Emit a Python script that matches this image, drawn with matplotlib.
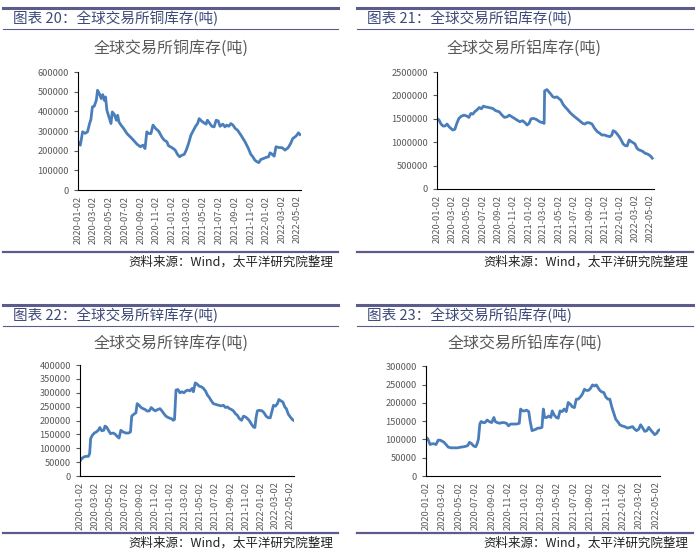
import matplotlib
matplotlib.use("Agg")
import matplotlib.pyplot as plt
import matplotlib.dates as mdates
from matplotlib.lines import Line2D
from matplotlib.ticker import FuncFormatter
import pandas as pd

plt.rcParams["font.family"] = ["Noto Sans CJK SC", "DejaVu Sans"]

copper_dates = [
    "2020-01-02", "2020-01-11", "2020-01-20", "2020-01-30", "2020-02-08", "2020-02-16",
    "2020-02-21", "2020-02-27", "2020-03-05", "2020-03-13", "2020-03-18", "2020-03-26",
    "2020-04-01", "2020-04-07", "2020-04-13", "2020-04-18", "2020-04-23", "2020-05-01",
    "2020-05-09", "2020-05-14", "2020-05-22", "2020-05-30", "2020-06-04", "2020-06-09",
    "2020-06-17", "2020-06-27", "2020-07-10", "2020-07-29", "2020-08-18", "2020-08-31",
    "2020-09-10", "2020-09-18", "2020-09-25", "2020-10-03", "2020-10-11", "2020-10-19",
    "2020-10-29", "2020-11-10", "2020-11-22", "2020-12-01", "2020-12-12", "2020-12-18",
    "2020-12-31", "2021-01-13", "2021-01-22", "2021-01-30", "2021-02-08", "2021-02-17",
    "2021-02-25", "2021-03-06", "2021-03-15", "2021-03-25", "2021-04-02", "2021-04-10",
    "2021-04-16", "2021-04-25", "2021-05-05", "2021-05-13", "2021-05-18", "2021-05-26",
    "2021-06-04", "2021-06-13", "2021-06-21", "2021-06-29", "2021-07-06", "2021-07-17",
    "2021-07-25", "2021-08-01", "2021-08-09", "2021-08-17", "2021-08-25", "2021-09-03",
    "2021-09-12", "2021-09-25", "2021-10-11", "2021-10-24", "2021-11-02", "2021-11-10",
    "2021-11-18", "2021-11-26", "2021-12-03", "2021-12-11", "2021-12-21", "2022-01-01",
    "2022-01-10", "2022-01-16", "2022-01-24", "2022-02-01", "2022-02-08", "2022-02-19",
    "2022-03-04", "2022-03-15", "2022-03-27", "2022-04-06", "2022-04-14", "2022-04-23",
    "2022-04-30", "2022-05-06", "2022-05-12",
]
copper = [
    245000, 228000, 296000, 288000, 296000, 338000, 358000, 423000, 426000, 456000,
    507000, 487000, 465000, 485000, 456000, 473000, 406000, 372000, 338000, 397000,
    384000, 355000, 380000, 346000, 330000, 313000, 287000, 262000, 233000, 220000,
    228000, 211000, 296000, 287000, 287000, 330000, 313000, 299000, 270000, 254000,
    245000, 225000, 216000, 203000, 181000, 169000, 177000, 181000, 203000, 237000,
    279000, 304000, 324000, 338000, 363000, 351000, 341000, 335000, 355000, 341000,
    324000, 321000, 355000, 351000, 324000, 335000, 321000, 330000, 324000, 338000,
    330000, 313000, 304000, 279000, 245000, 211000, 182000, 169000, 152000, 144000,
    139000, 155000, 160000, 166000, 169000, 189000, 182000, 172000, 220000, 216000,
    215000, 203000, 215000, 237000, 262000, 270000, 279000, 291000, 282000,
]

alu_dates = [
    "2020-01-02", "2020-01-10", "2020-01-18", "2020-01-26", "2020-02-03", "2020-02-11",
    "2020-02-19", "2020-02-26", "2020-03-05", "2020-03-13", "2020-03-21", "2020-03-29",
    "2020-04-09", "2020-04-19", "2020-04-30", "2020-05-08", "2020-05-16", "2020-05-24",
    "2020-05-31", "2020-06-08", "2020-06-19", "2020-06-27", "2020-07-05", "2020-07-13",
    "2020-07-26", "2020-08-11", "2020-08-24", "2020-09-06", "2020-09-17", "2020-09-27",
    "2020-10-08", "2020-10-16", "2020-10-26", "2020-11-06", "2020-11-16", "2020-11-27",
    "2020-12-08", "2020-12-18", "2020-12-26", "2021-01-03", "2021-01-11", "2021-01-21",
    "2021-02-01", "2021-02-14", "2021-02-27", "2021-03-04", "2021-03-06", "2021-03-15",
    "2021-03-23", "2021-03-31", "2021-04-08", "2021-04-16", "2021-04-24", "2021-05-02",
    "2021-05-10", "2021-05-18", "2021-05-26", "2021-06-05", "2021-06-16", "2021-06-26",
    "2021-07-07", "2021-07-17", "2021-07-28", "2021-08-05", "2021-08-13", "2021-08-21",
    "2021-08-31", "2021-09-11", "2021-09-21", "2021-10-02", "2021-10-12", "2021-10-20",
    "2021-10-31", "2021-11-10", "2021-11-21", "2021-11-29", "2021-12-04", "2021-12-12",
    "2021-12-20", "2021-12-28", "2022-01-05", "2022-01-13", "2022-01-21", "2022-01-29",
    "2022-02-06", "2022-02-14", "2022-02-21", "2022-03-01", "2022-03-09", "2022-03-17",
    "2022-03-25", "2022-04-02", "2022-04-10", "2022-04-18", "2022-04-26", "2022-05-04",
    "2022-05-09",
]
alu = [
    1508000, 1473000, 1388000, 1346000, 1346000, 1388000, 1331000, 1296000, 1261000, 1275000,
    1402000, 1508000, 1558000, 1579000, 1558000, 1530000, 1615000, 1600000, 1650000, 1685000,
    1742000, 1714000, 1771000, 1756000, 1742000, 1721000, 1671000, 1650000, 1579000, 1530000,
    1544000, 1579000, 1544000, 1508000, 1473000, 1438000, 1459000, 1416000, 1367000, 1402000,
    1501000, 1508000, 1487000, 1438000, 1416000, 1402000, 2096000, 2125000, 2075000, 2025000,
    1969000, 1955000, 1969000, 1933000, 1898000, 1813000, 1756000, 1700000, 1629000, 1579000,
    1530000, 1487000, 1438000, 1402000, 1388000, 1416000, 1416000, 1388000, 1296000, 1225000,
    1190000, 1154000, 1154000, 1133000, 1119000, 1154000, 1246000, 1225000, 1176000, 1119000,
    1048000, 963000, 928000, 921000, 1048000, 1013000, 992000, 963000, 871000, 836000,
    822000, 800000, 765000, 751000, 730000, 694000, 659000,
]

zinc_dates = [
    "2020-01-02", "2020-01-09", "2020-01-18", "2020-01-28", "2020-02-05", "2020-02-10",
    "2020-02-14", "2020-02-21", "2020-02-29", "2020-03-08", "2020-03-16", "2020-03-22",
    "2020-03-30", "2020-04-07", "2020-04-12", "2020-04-18", "2020-04-26", "2020-05-04",
    "2020-05-15", "2020-05-23", "2020-05-31", "2020-06-08", "2020-06-15", "2020-06-24",
    "2020-07-05", "2020-07-16", "2020-07-24", "2020-07-29", "2020-08-07", "2020-08-15",
    "2020-08-20", "2020-08-28", "2020-09-05", "2020-09-13", "2020-09-21", "2020-09-30",
    "2020-10-08", "2020-10-16", "2020-10-24", "2020-11-01", "2020-11-12", "2020-11-20",
    "2020-11-28", "2020-12-06", "2020-12-14", "2020-12-25", "2021-01-05", "2021-01-13",
    "2021-01-18", "2021-01-24", "2021-02-01", "2021-02-09", "2021-02-17", "2021-02-25",
    "2021-03-05", "2021-03-13", "2021-03-21", "2021-03-30", "2021-04-04", "2021-04-12",
    "2021-04-20", "2021-04-28", "2021-05-06", "2021-05-15", "2021-05-23", "2021-05-31",
    "2021-06-08", "2021-06-16", "2021-06-24", "2021-07-05", "2021-07-16", "2021-07-26",
    "2021-08-04", "2021-08-12", "2021-08-20", "2021-08-28", "2021-09-05", "2021-09-13",
    "2021-09-21", "2021-09-29", "2021-10-07", "2021-10-16", "2021-10-24", "2021-11-01",
    "2021-11-09", "2021-11-17", "2021-11-25", "2021-12-03", "2021-12-09", "2021-12-14",
    "2021-12-19", "2021-12-27", "2022-01-07", "2022-01-15", "2022-01-23", "2022-02-01",
    "2022-02-09", "2022-02-17", "2022-02-22", "2022-03-02", "2022-03-10", "2022-03-16",
    "2022-03-24", "2022-04-01", "2022-04-09", "2022-04-15", "2022-04-23", "2022-05-01",
    "2022-05-09", "2022-05-14",
]
zinc = [
    54000, 63000, 69000, 71000, 71000, 81000, 135000, 147000, 155000, 159000,
    165000, 175000, 163000, 165000, 180000, 177000, 165000, 153000, 155000, 151000,
    143000, 137000, 165000, 159000, 155000, 155000, 159000, 216000, 223000, 228000,
    261000, 255000, 247000, 243000, 240000, 234000, 235000, 247000, 240000, 235000,
    240000, 243000, 235000, 225000, 216000, 210000, 207000, 201000, 204000, 310000,
    312000, 300000, 304000, 300000, 307000, 310000, 307000, 316000, 304000, 336000,
    331000, 324000, 322000, 316000, 307000, 292000, 283000, 271000, 261000, 258000,
    255000, 253000, 255000, 247000, 249000, 243000, 240000, 235000, 225000, 219000,
    207000, 201000, 216000, 213000, 207000, 199000, 187000, 177000, 175000, 213000,
    235000, 237000, 235000, 228000, 216000, 210000, 210000, 237000, 255000, 252000,
    261000, 276000, 271000, 267000, 249000, 243000, 223000, 213000, 204000, 201000,
]

lead_dates = [
    "2020-01-02", "2020-01-09", "2020-01-17", "2020-01-24", "2020-02-01", "2020-02-08",
    "2020-02-16", "2020-02-23", "2020-03-02", "2020-03-09", "2020-03-16", "2020-03-24",
    "2020-04-03", "2020-04-15", "2020-04-28", "2020-05-10", "2020-05-22", "2020-06-04",
    "2020-06-11", "2020-06-19", "2020-06-26", "2020-07-04", "2020-07-09", "2020-07-14",
    "2020-07-19", "2020-07-24", "2020-07-31", "2020-08-07", "2020-08-15", "2020-08-22",
    "2020-09-01", "2020-09-09", "2020-09-14", "2020-09-21", "2020-10-01", "2020-10-08",
    "2020-10-16", "2020-10-26", "2020-11-02", "2020-11-10", "2020-11-20", "2020-12-02",
    "2020-12-12", "2020-12-17", "2020-12-24", "2021-01-01", "2021-01-08", "2021-01-16",
    "2021-01-21", "2021-01-28", "2021-02-05", "2021-02-12", "2021-02-19", "2021-02-27",
    "2021-03-06", "2021-03-11", "2021-03-16", "2021-03-24", "2021-03-31", "2021-04-08",
    "2021-04-13", "2021-04-20", "2021-04-28", "2021-05-05", "2021-05-12", "2021-05-20",
    "2021-05-27", "2021-06-04", "2021-06-11", "2021-06-19", "2021-06-26", "2021-07-04",
    "2021-07-11", "2021-07-18", "2021-07-26", "2021-08-02", "2021-08-10", "2021-08-17",
    "2021-08-25", "2021-09-01", "2021-09-09", "2021-09-16", "2021-09-23", "2021-09-28",
    "2021-10-06", "2021-10-13", "2021-10-21", "2021-10-28", "2021-11-05", "2021-11-12",
    "2021-11-20", "2021-11-27", "2021-12-04", "2021-12-12", "2021-12-19", "2021-12-27",
    "2022-01-06", "2022-01-16", "2022-01-26", "2022-02-04", "2022-02-12", "2022-02-19",
    "2022-02-27", "2022-03-06", "2022-03-14", "2022-03-21", "2022-03-29", "2022-04-05",
    "2022-04-12", "2022-04-20", "2022-04-27", "2022-05-05", "2022-05-10", "2022-05-15",
]
lead = [
    106000, 101000, 86000, 88000, 88000, 86000, 98000, 98000, 95000, 92000,
    86000, 79000, 77000, 77000, 77000, 79000, 80000, 83000, 92000, 88000,
    82000, 80000, 88000, 101000, 142000, 149000, 146000, 146000, 153000, 149000,
    146000, 160000, 149000, 146000, 144000, 146000, 146000, 144000, 137000, 142000,
    142000, 142000, 144000, 183000, 178000, 178000, 180000, 176000, 151000, 124000,
    126000, 128000, 131000, 131000, 133000, 183000, 160000, 160000, 164000, 160000,
    178000, 167000, 160000, 158000, 178000, 176000, 183000, 176000, 201000, 196000,
    189000, 187000, 210000, 210000, 216000, 223000, 237000, 234000, 234000, 239000,
    249000, 246000, 249000, 243000, 234000, 230000, 228000, 216000, 210000, 210000,
    187000, 171000, 155000, 148000, 140000, 137000, 135000, 131000, 133000, 135000,
    128000, 124000, 128000, 140000, 131000, 122000, 124000, 133000, 126000, 119000,
    113000, 117000, 124000, 126000,
]

tick_dates = pd.date_range("2020-01-01", "2022-05-01", freq="2MS") + pd.Timedelta(days=1)

LINE = "#4a7ebb"
TXT = "#595959"
HEAD = "#3c4a78"
RULE = "#5c5c8c"
W, H = 700.0, 560.0


def panel(fig, box, frame, title_xy, num, name, dates, values, ymax, ystep):
    x0, x1, ytop, ybot = frame
    # heading block and source line, placed in pixels of the 700x560 canvas
    fig.add_artist(Line2D([x0 / W, x1 / W], [1 - ytop / H] * 2, color=RULE, lw=2.2))
    fig.add_artist(Line2D([x0 / W, x1 / W], [1 - (ytop + 21) / H] * 2, color=RULE, lw=0.8))
    fig.text((x0 + 10) / W, 1 - (ytop + 10.5) / H, f"图表 {num}：全球交易所{name}库存(吨)",
             color=HEAD, fontsize=10.5, va="center", ha="left")
    fig.add_artist(Line2D([x0 / W, x1 / W], [1 - ybot / H] * 2, color=RULE, lw=1.6))
    fig.text((x1 - 5) / W, 1 - (ybot + 10) / H, "资料来源：Wind，太平洋研究院整理",
             color="#222222", fontsize=9, style="italic", va="center", ha="right")
    fig.text(title_xy[0] / W, 1 - title_xy[1] / H, f"全球交易所{name}库存(吨)",
             color=TXT, fontsize=11.5, va="center", ha="center")

    ax = fig.add_axes(box)
    ax.plot(pd.to_datetime(dates), values, color=LINE, lw=2.0)
    ax.set_xlim(pd.Timestamp("2020-01-02"), pd.Timestamp("2022-05-16"))
    ax.set_ylim(0, ymax)
    ax.set_yticks(range(0, ymax + 1, ystep))
    ax.yaxis.set_major_formatter(FuncFormatter(lambda v, p: f"{int(v)}"))
    ax.set_xticks(tick_dates)
    ax.xaxis.set_major_formatter(mdates.DateFormatter("%Y-%m-%d"))
    ax.tick_params(axis="x", rotation=90, labelsize=6.7, colors=TXT, length=0, pad=4)
    ax.tick_params(axis="y", labelsize=6.7, colors=TXT, length=3, direction="out")
    for s in ("top", "right"):
        ax.spines[s].set_visible(False)
    ax.spines["left"].set_color("black")
    ax.spines["bottom"].set_color("black")


def main():
    fig = plt.figure(figsize=(7, 5.6), dpi=100)
    panel(fig, [0.1114, 0.6607, 0.3186, 0.2107], (3, 338, 8, 252), (171, 48), 20, "铜",
          copper_dates, copper, 600000, 100000)
    panel(fig, [0.6243, 0.6625, 0.3100, 0.2089], (357, 693, 8, 252), (524, 48), 21, "铝",
          alu_dates, alu, 2500000, 500000)
    panel(fig, [0.1143, 0.1500, 0.3057, 0.1980], (3, 338, 305, 533), (171, 343), 22, "锌",
          zinc_dates, zinc, 400000, 50000)
    panel(fig, [0.6086, 0.1500, 0.3340, 0.1960], (357, 693, 305, 533), (525, 343), 23, "铅",
          lead_dates, lead, 300000, 50000)
    fig.savefig("out.png", dpi=100)


if __name__ == "__main__":
    main()
